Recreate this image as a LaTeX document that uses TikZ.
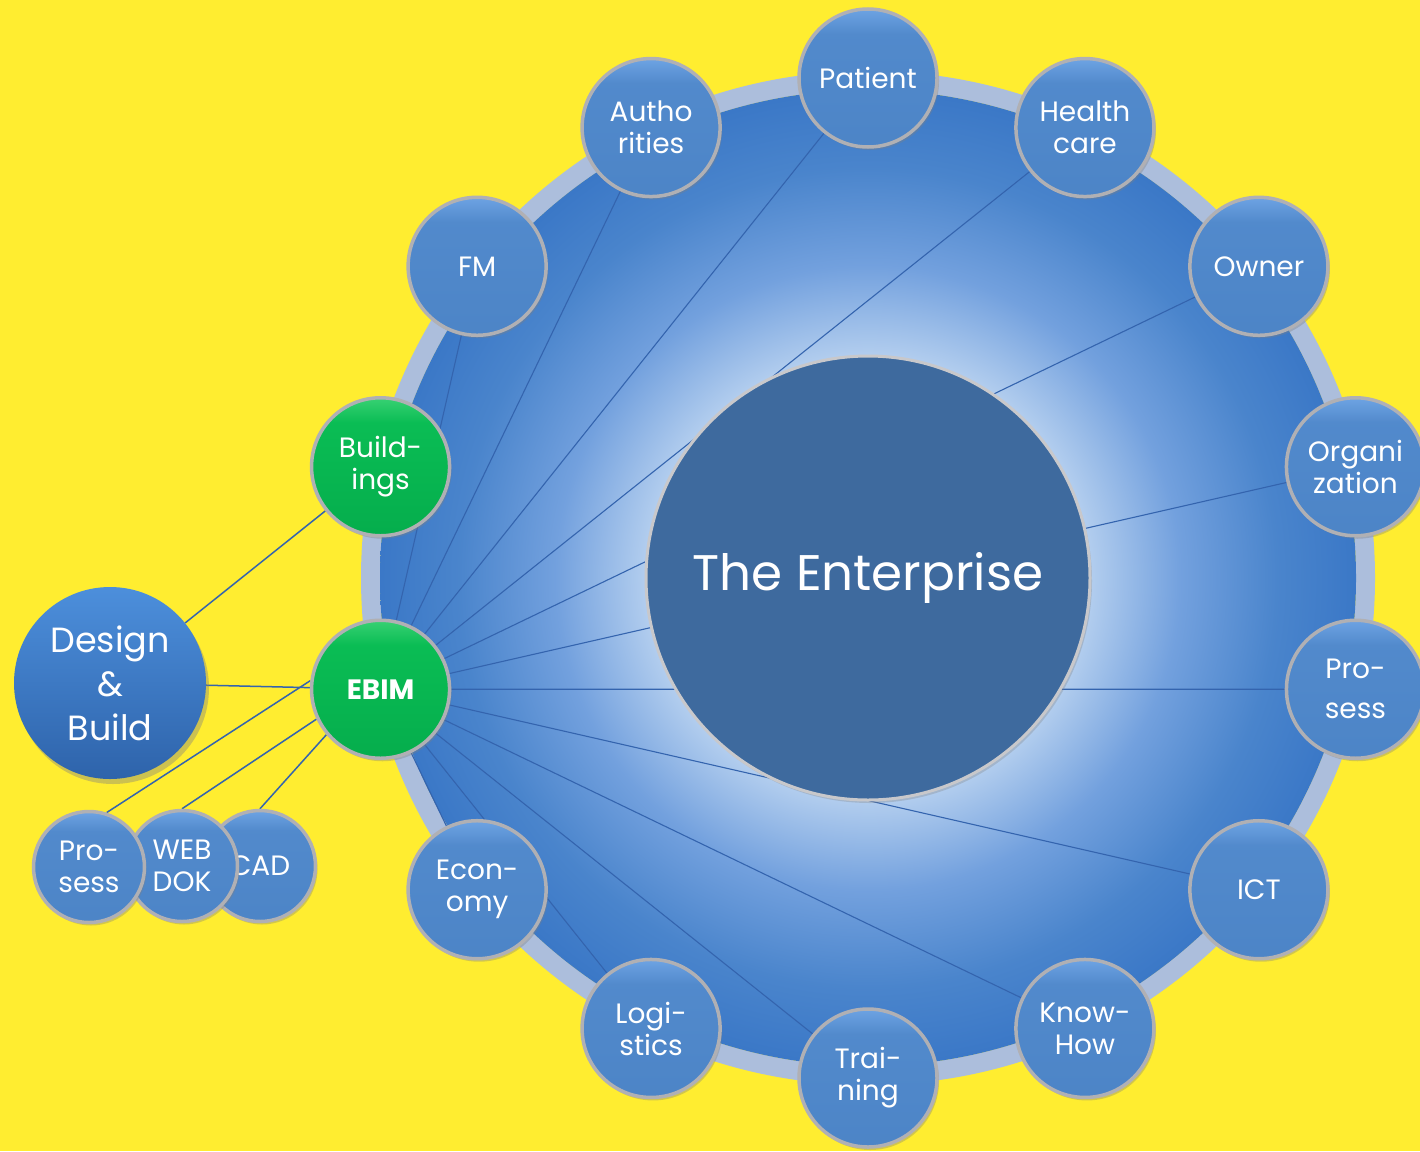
\documentclass[tikz,border=0pt]{standalone}
\usepackage{fontspec}
\setmainfont{Poppins}
\usetikzlibrary{shadows}

\definecolor{bgyellow}{RGB}{255,237,48}
\definecolor{ringgrey}{RGB}{172,190,220}
\definecolor{spokeblue}{RGB}{52,100,174}
\definecolor{corefill}{RGB}{62,106,158}
\definecolor{rimgrey}{RGB}{176,176,180}

\pgfdeclareradialshading{discshade}{\pgfpointorigin}{rgb(0bp)=(0.80,0.87,0.96); rgb(11bp)=(0.72,0.82,0.94); rgb(16bp)=(0.45,0.63,0.87); rgb(21bp)=(0.29,0.52,0.80); rgb(25bp)=(0.23,0.47,0.78); rgb(50bp)=(0.23,0.47,0.78)}
\pgfdeclareverticalshading{bubblue}{100bp}{rgb(0bp)=(0.30,0.52,0.78); rgb(25bp)=(0.30,0.52,0.78); rgb(66bp)=(0.32,0.54,0.80); rgb(75bp)=(0.43,0.64,0.89); rgb(100bp)=(0.43,0.64,0.89)}
\pgfdeclareverticalshading{bubgreen}{100bp}{rgb(0bp)=(0.02,0.68,0.30); rgb(25bp)=(0.02,0.68,0.30); rgb(66bp)=(0.04,0.74,0.33); rgb(75bp)=(0.22,0.82,0.45); rgb(100bp)=(0.22,0.82,0.45)}
\pgfdeclareverticalshading{bigblue}{100bp}{rgb(0bp)=(0.18,0.39,0.67); rgb(25bp)=(0.18,0.39,0.67); rgb(75bp)=(0.30,0.56,0.86); rgb(100bp)=(0.30,0.56,0.86)}

\pgfdeclarelayer{back}
\pgfdeclarelayer{wires}
\pgfsetlayers{back,wires,main}

\begin{document}
\begin{tikzpicture}[x=1pt,y=1pt,
  bubble/.style={circle,draw=rimgrey,line width=3.5pt,shade,shading=bubblue,text=white,align=center,inner sep=0pt,minimum size=138pt,font=\fontsize{28}{32}\selectfont,drop shadow={shadow xshift=2pt,shadow yshift=-3pt,opacity=0.35}},
  greenbubble/.style={bubble,shading=bubgreen},
  tinybubble/.style={bubble,minimum size=111pt},
  bigbubble/.style={circle,shade,shading=bigblue,text=white,align=center,inner sep=0pt,minimum size=192pt,font=\fontsize{35}{44}\selectfont,drop shadow={shadow xshift=3pt,shadow yshift=-5pt,opacity=0.4}},
  spoke/.style={draw=spokeblue,line width=1.1pt},
  link/.style={draw=spokeblue,line width=1.5pt}]
\useasboundingbox (0,0) rectangle (1420,-1151);
\coordinate (ctr) at (868,-578);

% Background and big disc
\begin{pgfonlayer}{back}
\fill[bgyellow] (0,0) rectangle (1420,-1151);
\draw[ringgrey,line width=19pt] (ctr) circle (497.5);
\shade[shading=discshade] (ctr) circle (488);
\end{pgfonlayer}

% Bubbles round the ring
\foreach \nm/\st/\lbl [count=\i from 0] in {patient/bubble/Patient, health/bubble/{Health\\care}, owner/bubble/Owner, organi/bubble/{Organi\\zation}, prosess/bubble/{Pro-\\[8pt]sess}, ict/bubble/ICT, knowhow/bubble/{Know-\\How}, training/bubble/{Trai-\\ning}, logistics/bubble/{Logi-\\stics}, economy/bubble/{Econ-\\omy}, ebim/greenbubble/{\textbf{EBIM}}, buildings/greenbubble/{Build-\\ings}, fm/bubble/FM, authorities/bubble/{Autho\\rities}}
{
    \node[\st] (\nm) at ([shift={({90-\i*360/14}:500)}]ctr) {\lbl};
}

% Centre
\node[circle,draw=rimgrey!70!white,line width=3pt,fill=corefill,minimum size=444pt,text=white,font=\fontsize{50}{56}\selectfont,drop shadow={shadow xshift=2pt,shadow yshift=-3pt,opacity=0.3}] (enterprise) at (ctr) {The Enterprise};

% Left side
\node[bigbubble] (dnb) at (110,-683) {Design\\\&\\Build};
\node[tinybubble] (cad) at (260,-866) {CAD};
\node[tinybubble] (webdok) at (182,-866) {WEB\\DOK};
\node[tinybubble] (subpro) at (89,-867) {Pro-\\sess};

% Connectors
\begin{pgfonlayer}{wires}
\foreach \nm in {patient,health,owner,organi,prosess,ict,knowhow,training,logistics,economy,fm,authorities}
{
    \draw[spoke] (ebim.center) -- (\nm.center);
}
\draw[link] (dnb) -- (buildings);
\draw[link] (dnb) -- (ebim);
\draw[link] (ebim.173) -- (subpro.72);
\draw[link] (ebim.205) -- (webdok.north);
\draw[link] (ebim.220) -- (cad.north);
\end{pgfonlayer}
\end{tikzpicture}
\end{document}
